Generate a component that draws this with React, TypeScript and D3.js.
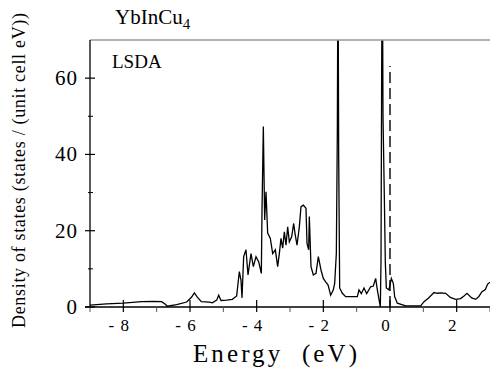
import React from "react";
import * as d3 from "d3";

const energy = [
  -9.0, -8.5, -8.0, -7.45, -7.1, -6.85, -6.75, -6.68, -6.4, -6.1, -5.95, -5.87, -5.78, -5.66, -5.42, -5.33, -5.2, -5.14, -5.07,
  -4.9, -4.73, -4.6, -4.52, -4.47, -4.44, -4.39, -4.32, -4.26, -4.17, -4.1, -4.02, -3.94, -3.86, -3.84, -3.8, -3.76, -3.72,
  -3.67, -3.59, -3.52, -3.44, -3.37, -3.32, -3.27, -3.22, -3.17, -3.12, -3.07, -3.02, -2.95, -2.89, -2.85, -2.79, -2.72,
  -2.67, -2.6, -2.52, -2.49, -2.44, -2.42, -2.37, -2.3, -2.22, -2.15, -2.07, -2.0, -1.93, -1.86, -1.78, -1.7, -1.66, -1.61,
  -1.58, -1.56, -1.54, -1.51, -1.43, -1.33, -1.1, -0.98, -0.93, -0.86, -0.78, -0.7, -0.58, -0.5, -0.43, -0.38, -0.33,
  -0.29, -0.27, -0.25, -0.23, -0.21, -0.17, -0.14, -0.11, -0.03, 0.04, 0.1, 0.14, 0.22, 0.47, 0.92, 1.02, 1.15, 1.32,
  1.42, 1.52, 1.67, 1.81, 1.97, 2.12, 2.22, 2.31, 2.45, 2.57, 2.66, 2.76, 2.86, 2.93, 3.0,
];
const dos = [
  0.5, 0.8, 1.0, 1.4, 1.5, 1.4, 0.8, 0.2, 0.6, 1.3, 2.6, 3.7, 2.6, 1.4, 1.3, 1.1, 1.8, 3.1, 1.7,
  1.8, 2.0, 2.9, 9.3, 7.0, 2.4, 13.2, 15.0, 8.4, 14.0, 10.6, 13.2, 11.9, 8.8, 25, 47.3, 22.8, 30.2,
  19.4, 18, 14, 15, 10.6, 14, 18, 15.4, 19.7, 16.2, 21, 17.1, 18.4, 21.9, 19.3, 16.2, 21,
  26.3, 26.7, 25.9, 16.7, 15, 23.7, 10.6, 8.4, 8.8, 13.2, 9.7, 7.5, 6.6, 5.8, 3.1, 4.5, 6.2, 14,
  46, 95, 40, 5, 3.6, 2.7, 2.7, 2.7, 4.5, 3.5, 5, 3.5, 5.3, 5.5, 7.5, 4.5, 2.0,
  0, 12, 62, 95, 50, 28.9, 11.5, 5, 4.5, 7.5, 6.2, 2.7, 1.0, 0.3, 0.3, 1.4, 2.3, 3.8,
  3.6, 3.7, 3.6, 2.5, 2.0, 2.2, 2.9, 3.6, 2.4, 2.0, 2.7, 4.0, 4.6, 6.0, 6.5,
];

const xMajor = [-8, -6, -4, -2, 0, 2];
const xMinor = [-9, -7, -5, -3, -1, 1, 3];
const yMajor = [0, 20, 40, 60];
const yMinor = [10, 30, 50];
const fermiLevel = 0;
const fermiTop = 63.2;

const title = "YbInCu";
const titleSub = "4";
const method = "LSDA";
const xLabel = "Energy  (eV)";
const yLabel = "Density of states (states / (unit cell eV))";

export default function App() {
  const left = 90, right = 490, top = 40, bottom = 307;
  const x = d3.scaleLinear().domain([-9, 3]).range([left, right]);
  const y = d3.scaleLinear().domain([0, 70]).range([bottom, top]);
  const pts = energy.map((e, i) => [e, dos[i]] as [number, number]);
  const line = d3.line<[number, number]>().x((d) => x(d[0])).y((d) => y(d[1]));
  const font = "'Liberation Serif', 'Times New Roman', serif";

  return (
    <svg width={490} height={372} style={{ position: "absolute", left: 0, top: 0, background: "#fff" }}>
      <defs>
        <clipPath id="plot">
          <rect x={left} y={top} width={right - left} height={bottom - top + 2} />
        </clipPath>
      </defs>
      <g clipPath="url(#plot)">
        <path d={line(pts) || ""} fill="none" stroke="#000" strokeWidth={1.3} strokeLinejoin="miter" />
        <line x1={x(fermiLevel)} x2={x(fermiLevel)} y1={y(0)} y2={y(fermiTop)} stroke="#000" strokeWidth={1.4} strokeDasharray="11,5" />
      </g>
      {/* frame */}
      <line x1={left} x2={right} y1={top} y2={top} stroke="#999" strokeWidth={1.5} />
      <line x1={left} x2={left} y1={top} y2={bottom} stroke="#000" strokeWidth={1.3} />
      <line x1={left - 5} x2={right} y1={bottom} y2={bottom} stroke="#000" strokeWidth={1.3} />
      {xMajor.map((t) => (
        <line key={"xM" + t} x1={x(t)} x2={x(t)} y1={bottom - 7} y2={bottom + 5} stroke="#000" strokeWidth={1.2} />
      ))}
      {xMinor.map((t) => (
        <line key={"xm" + t} x1={x(t)} x2={x(t)} y1={bottom} y2={bottom + 5} stroke="#555" strokeWidth={1} />
      ))}
      {yMajor.map((t) => (
        <line key={"yM" + t} x1={left - 5} x2={left + 5} y1={y(t)} y2={y(t)} stroke="#000" strokeWidth={1.2} />
      ))}
      {yMinor.map((t) => (
        <line key={"ym" + t} x1={left - 2} x2={left + 3} y1={y(t)} y2={y(t)} stroke="#000" strokeWidth={1} />
      ))}
      {xMajor.map((t) => (
        <text key={"xl" + t} x={x(t) - 4} y={331} textAnchor="middle" fontFamily={font} fontSize={17} letterSpacing={1}>
          {t < 0 ? "- " + Math.abs(t) : String(t)}
        </text>
      ))}
      {yMajor.map((t) => (
        <text key={"yl" + t} x={78} y={y(t) + 7} textAnchor="end" fontFamily={font} fontSize={21} letterSpacing={1}>
          {t}
        </text>
      ))}
      <text x={115} y={24} fontFamily={font} fontSize={21}>
        {title}
        <tspan dy={5} fontSize={15}>{titleSub}</tspan>
      </text>
      <text x={112} y={68} fontFamily={font} fontSize={19}>{method}</text>
      <text x={193} y={362} fontFamily={font} fontSize={25} textLength={164} lengthAdjust="spacing" style={{ whiteSpace: "pre" }}>
        {xLabel}
      </text>
      <text
        transform={`translate(25,${(13 + 328) / 2}) rotate(-90)`}
        textAnchor="middle"
        fontFamily={font}
        fontSize={18}
        textLength={315}
        lengthAdjust="spacing"
      >
        {yLabel}
      </text>
    </svg>
  );
}
